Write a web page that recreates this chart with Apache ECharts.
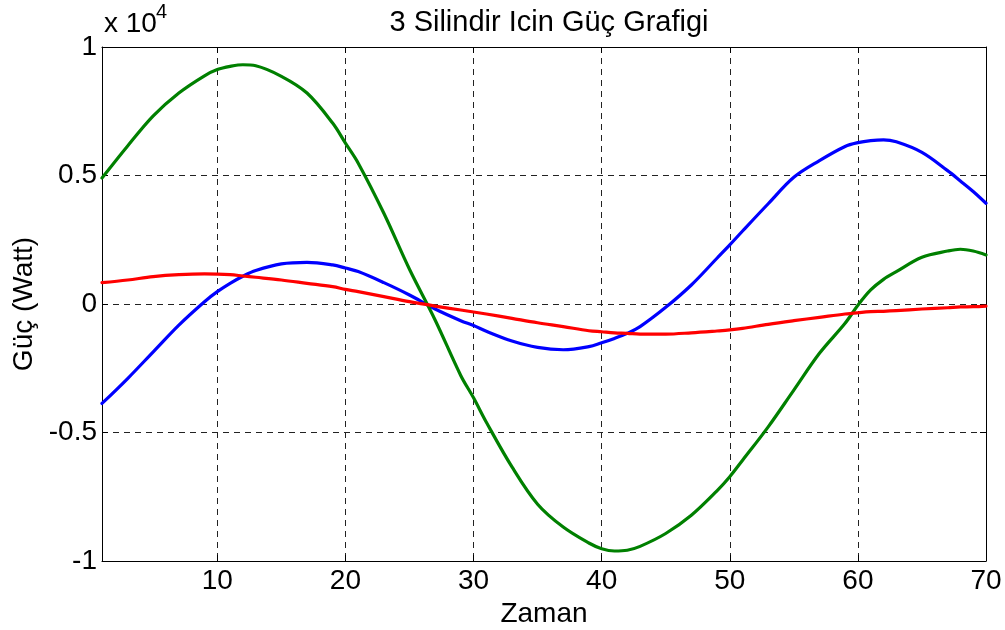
<!DOCTYPE html>
<html>
<head>
<meta charset="utf-8">
<title>3 Silindir Icin Güç Grafigi</title>
<script src="https://cdn.jsdelivr.net/npm/echarts@6/dist/echarts.min.js"></script>
<style>
  html, body { margin: 0; padding: 0; background: #fff; }
  #chart { width: 1005px; height: 630px; }
</style>
</head>
<body>
<div id="chart"></div>
<script>
// zaman (x) values
const zaman = [1, 3, 5, 7, 9, 10, 11, 12, 13, 15,
  17, 19, 20, 21, 23, 25, 27, 29, 30, 31,
  33, 35, 37, 39, 40, 41, 42, 43, 45, 47,
  49, 50, 51, 53, 55, 57, 59, 60, 61, 62,
  63, 65, 67, 68, 69, 70]

const mavi = [-3870, -2900, -1860, -820, 90, 480, 805, 1080, 1300, 1560,
  1620, 1520, 1400, 1260, 830, 350, -195, -650, -840, -1060,
  -1440, -1690, -1780, -1660, -1510, -1340, -1140, -880, -130, 740,
  1780, 2300, 2840, 3900, 4930, 5580, 6130, 6280, 6360, 6390,
  6310, 5900, 5190, 4790, 4380, 3920]

const yesil = [4900, 6150, 7320, 8210, 8880, 9120, 9245, 9310, 9270, 8860,
  8210, 7040, 6260, 5480, 3530, 1350, -620, -2780, -3650, -4600,
  -6340, -7790, -8680, -9300, -9520, -9610, -9580, -9430, -8930, -8220,
  -7270, -6720, -6080, -4780, -3350, -1920, -750, -50, 545, 960,
  1260, 1820, 2060, 2130, 2060, 1910]

const kirmizi = [830, 935, 1065, 1140, 1170, 1165, 1140, 1090, 1040, 935,
  805, 675, 570, 480, 285, 90, -80, -235, -310, -390,
  -560, -730, -880, -1040, -1080, -1120, -1140, -1170, -1170, -1120,
  -1050, -1010, -950, -790, -650, -520, -390, -340, -300, -285,
  -260, -195, -145, -115, -105, -80]

const xTicks = [10, 20, 30, 40, 50, 60, 70]

const font = 'Liberation Sans, Arial, sans-serif'
const gridDash = { color: '#222', width: 1, type: [6, 5] }

function pairs(ys) {
  return zaman.map((x, i) => [x, ys[i]])
}

function lineSeries(name, color, ys) {
  return {
    name: name,
    type: 'line',
    smooth: 0.35,
    showSymbol: false,
    symbol: 'none',
    animation: false,
    lineStyle: { color: color, width: 3.2, join: 'round', cap: 'round' },
    data: pairs(ys)
  }
}

const chart = echarts.init(document.getElementById('chart'), null, { renderer: 'canvas' })

chart.setOption({
  backgroundColor: '#fff',
  animation: false,
  title: {
    text: '3 Silindir Icin Güç Grafigi',
    left: 544,
    textAlign: 'center',
    top: 3,
    textStyle: { fontFamily: font, fontSize: 29, fontWeight: 'normal', color: '#000' }
  },
  grid: { left: 102, right: 19, top: 47, bottom: 69, outerBoundsMode: 'none' },
  xAxis: [{
    type: 'value',
    min: 1,
    max: 70,
    position: 'bottom',
    name: 'Zaman',
    nameLocation: 'middle',
    nameGap: 31,
    nameTextStyle: { fontFamily: font, fontSize: 28, color: '#000' },
    axisLine: { show: true, onZero: false, lineStyle: { color: '#000', width: 1 } },
    axisTick: { show: true, inside: true, length: 6, customValues: xTicks, lineStyle: { color: '#000' } },
    axisLabel: { customValues: xTicks, margin: 6, fontFamily: font, fontSize: 28, color: '#000' },
    splitLine: { show: true, lineStyle: gridDash }
  }, {
    type: 'value',
    min: 1,
    max: 70,
    position: 'top',
    axisLine: { show: true, onZero: false, lineStyle: { color: '#000', width: 1 } },
    axisTick: { show: true, inside: true, length: 6, customValues: xTicks, lineStyle: { color: '#000' } },
    axisLabel: { show: false },
    splitLine: { show: false }
  }],
  yAxis: [{
    type: 'value',
    min: -10000,
    max: 10000,
    interval: 5000,
    name: 'Güç (Watt)',
    nameLocation: 'middle',
    nameGap: 63,
    nameTextStyle: { fontFamily: font, fontSize: 28, color: '#000' },
    axisLine: { show: true, onZero: false, lineStyle: { color: '#000', width: 1 } },
    axisTick: { show: true, inside: true, length: 6, lineStyle: { color: '#000' } },
    axisLabel: {
      margin: 5,
      fontFamily: font,
      fontSize: 28,
      color: '#000',
      formatter: v => String(v / 10000)
    },
    splitLine: { show: true, lineStyle: gridDash }
  }, {
    type: 'value',
    min: -10000,
    max: 10000,
    interval: 5000,
    position: 'right',
    axisLine: { show: true, onZero: false, lineStyle: { color: '#000', width: 1 } },
    axisTick: { show: true, inside: true, length: 6, lineStyle: { color: '#000' } },
    axisLabel: { show: false },
    splitLine: { show: false }
  }],
  graphic: [{
    type: 'text',
    left: 104,
    top: 10,
    style: { text: 'x 10', fontFamily: font, fontSize: 28, fill: '#000' }
  }, {
    type: 'text',
    left: 156,
    top: 2,
    style: { text: '4', fontFamily: font, fontSize: 20, fill: '#000' }
  }],
  series: [
    lineSeries('Mavi', '#0000ff', mavi),
    lineSeries('Yesil', '#008000', yesil),
    lineSeries('Kirmizi', '#ff0000', kirmizi)
  ]
})
</script>
</body>
</html>
